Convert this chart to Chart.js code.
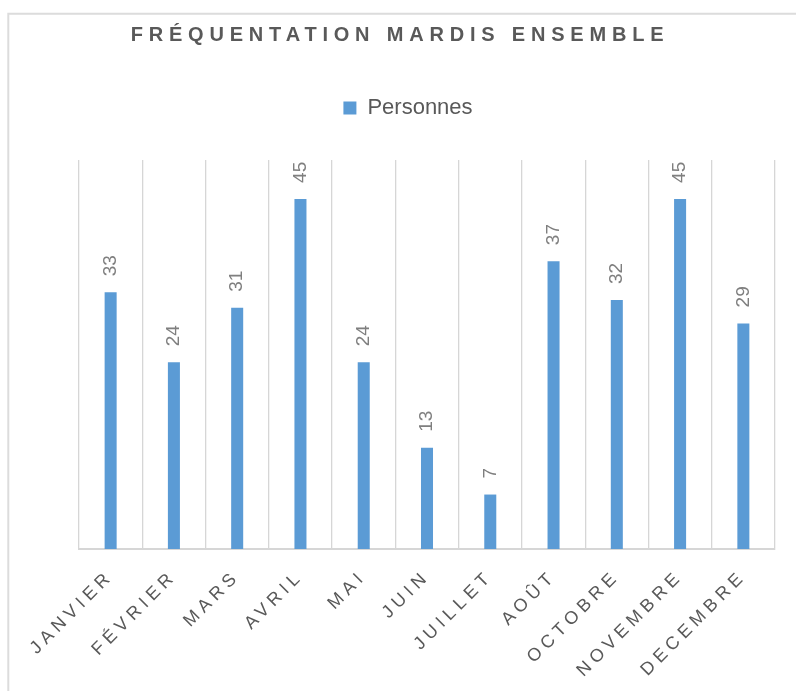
<!DOCTYPE html>
<html>
<head>
<meta charset="utf-8">
<script src="https://cdn.jsdelivr.net/npm/chart.js@4/dist/chart.umd.min.js"></script>
<style>
html,body{margin:0;padding:0;background:#ffffff;}
canvas{display:block;}
</style>
</head>
<body>
<canvas id="c" width="796" height="691"></canvas>
<script>
// ---- data ----
const chartTitle = 'FRÉQUENTATION MARDIS ENSEMBLE';
const seriesName = 'Personnes';
const months = ['JANVIER', 'FÉVRIER', 'MARS', 'AVRIL', 'MAI', 'JUIN', 'JUILLET', 'AOÛT', 'OCTOBRE', 'NOVEMBRE', 'DECEMBRE'];
const personnes = [33, 24, 31, 45, 24, 13, 7, 37, 32, 45, 29];
const yMin = 0;
const yMax = 50;

// ---- styles ----
const FONT = "'Liberation Sans', Arial, sans-serif";
const BAR_COLOR = '#5b9bd5';
const GRID_COLOR = '#d6d6d6';
const TEXT_DARK = '#595959';
const LABEL_GRAY = '#7f7f7f';

const framePlugin = {
  id: 'frame',
  beforeDraw(chart) {
    const ctx = chart.ctx;
    ctx.save();
    ctx.strokeStyle = '#dcdcdc';
    ctx.lineWidth = 2;
    ctx.beginPath();
    ctx.moveTo(8.3, chart.height + 5);
    ctx.lineTo(8.3, 13.7);
    ctx.lineTo(chart.width + 5, 13.7);
    ctx.stroke();
    ctx.restore();
  }
};

const spacingPatch = {
  id: 'spacingPatch',
  beforeLayout(chart) {
    const lg = chart.legend;
    if (lg && !lg.__patched) {
      const fit = lg.fit;
      lg.fit = function () { fit.call(this); this.height += 31; };
      lg.__patched = true;
    }
  },
  beforeDraw(chart) {
    const t = chart.titleBlock;
    if (t && !t.__patched) {
      const d = t.draw;
      t.draw = function (...a) {
        const ctx = this.ctx;
        ctx.save();
        ctx.letterSpacing = '5.8px';
        ctx.translate(-8, 0);
        d.apply(this, a);
        ctx.restore();
      };
      t.__patched = true;
    }
    const xs = chart.scales.x;
    if (xs && !xs.__patched) {
      const dl = xs.drawLabels;
      xs.drawLabels = function (...a) {
        const ctx = this.ctx;
        ctx.save();
        ctx.letterSpacing = '4.8px';
        dl.apply(this, a);
        ctx.restore();
      };
      xs.__patched = true;
    }
  }
};

const barLabels = {
  id: 'barLabels',
  afterDatasetsDraw(chart) {
    const ctx = chart.ctx;
    const meta = chart.getDatasetMeta(0);
    const data = chart.data.datasets[0].data;
    ctx.save();
    ctx.font = '19px ' + FONT;
    ctx.fillStyle = LABEL_GRAY;
    ctx.textAlign = 'left';
    ctx.textBaseline = 'middle';
    meta.data.forEach((bar, i) => {
      ctx.save();
      ctx.translate(bar.x, bar.y - 16);
      ctx.rotate(-Math.PI / 2);
      ctx.fillText(String(data[i]), 0, 0);
      ctx.restore();
    });
    ctx.restore();
  }
};

new Chart(document.getElementById('c'), {
  type: 'bar',
  data: {
    labels: months,
    datasets: [{
      label: seriesName,
      data: personnes,
      backgroundColor: BAR_COLOR,
      borderWidth: 0,
      barPercentage: 0.19,
      categoryPercentage: 1.0
    }]
  },
  options: {
    responsive: false,
    animation: false,
    layout: { padding: { top: 15, left: 41, right: 21, bottom: 0 } },
    plugins: {
      tooltip: { enabled: false },
      title: {
        display: true,
        text: chartTitle,
        color: TEXT_DARK,
        font: { family: FONT, size: 20, weight: 'bold', lineHeight: 1.2 },
        padding: { top: 8, bottom: 40 }
      },
      legend: {
        display: true,
        position: 'top',
        align: 'center',
        labels: {
          color: TEXT_DARK,
          font: { family: FONT, size: 22 },
          boxWidth: 13,
          boxHeight: 13,
          padding: 10
        }
      }
    },
    scales: {
      x: {
        offset: true,
        grid: { display: true, offset: true, color: GRID_COLOR, lineWidth: 1.3, drawTicks: false },
        border: { display: true, color: GRID_COLOR, width: 2 },
        ticks: {
          color: TEXT_DARK,
          font: { family: FONT, size: 18 },
          minRotation: 45,
          maxRotation: 45,
          autoSkip: false,
          padding: 17
        },
        afterFit(scale) { scale.height = 142; }
      },
      y: {
        display: true,
        min: yMin,
        max: yMax,
        grid: { display: false },
        border: { display: false },
        ticks: { display: false },
        afterFit(scale) { scale.width = 38; }
      }
    }
  },
  plugins: [framePlugin, spacingPatch, barLabels]
});
</script>
</body>
</html>
